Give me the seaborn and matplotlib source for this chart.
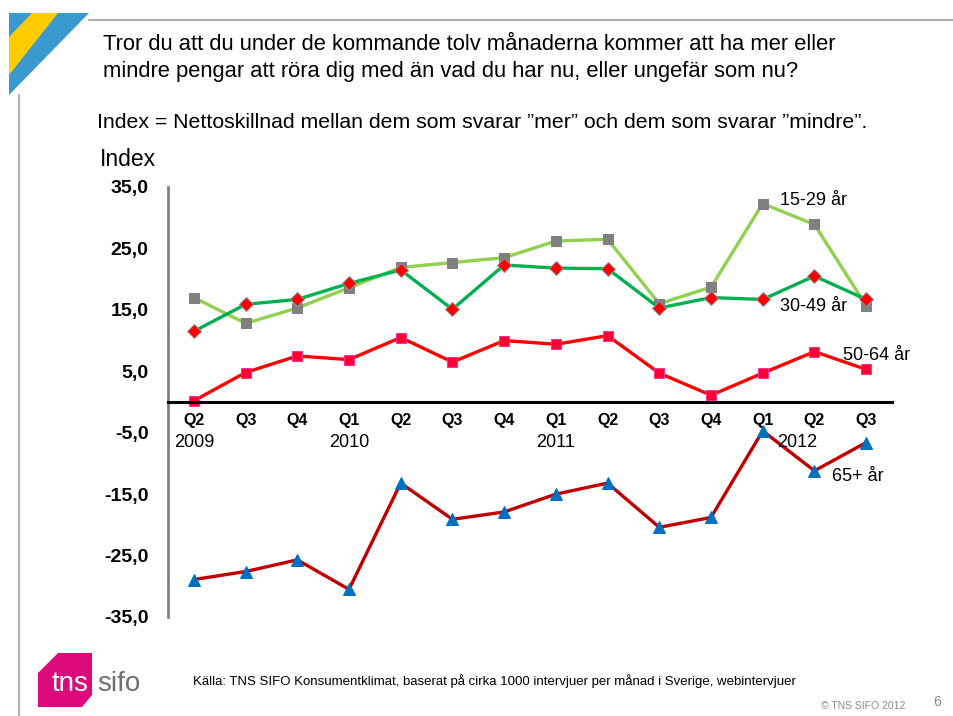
import numpy as np
import pandas as pd
import matplotlib.pyplot as plt
import seaborn as sns
from matplotlib.patches import Polygon
from matplotlib.lines import Line2D

# data (index values per quarter)
quarters = ["Q2", "Q3", "Q4", "Q1", "Q2", "Q3", "Q4", "Q1", "Q2", "Q3", "Q4", "Q1", "Q2", "Q3"]
years = ["2009", "2010", "2011", "2012"]
year_at = [0, 3, 7, 11.67]

age_15_29 = [17.0, 12.8, 15.3, 18.6, 21.9, 22.7, 23.5, 26.2, 26.5, 16.0, 18.7, 32.3, 28.9, 15.7]
age_30_49 = [11.5, 15.9, 16.7, 19.3, 21.5, 15.1, 22.3, 21.8, 21.7, 15.3, 17.0, 16.7, 20.5, 16.7]
age_50_64 = [0.2, 4.8, 7.5, 6.9, 10.5, 6.5, 10.0, 9.4, 10.8, 4.7, 1.1, 4.7, 8.2, 5.3]
age_65 = [-28.9, -27.6, -25.7, -30.5, -13.2, -19.1, -17.9, -15.0, -13.2, -20.4, -18.8, -4.7, -11.2, -6.6]

series_names = ["65+ år", "50-64 år", "15-29 år", "30-49 år"]
series_vals = [age_65, age_50_64, age_15_29, age_30_49]
label_pos = {"15-29 år": (11.34, 32.8), "30-49 år": (11.34, 15.6),
             "50-64 år": (12.56, 7.6), "65+ år": (12.34, -12.2)}

styles = {
    "15-29 år": dict(color="#92d050", marker="s", markerfacecolor="#808080", markeredgecolor="#808080", markersize=6.5),
    "30-49 år": dict(color="#00b050", marker="D", markerfacecolor="#ff0000", markeredgecolor="#909090", markersize=7.5),
    "50-64 år": dict(color="#ff0000", marker="s", markerfacecolor="#ff0033", markeredgecolor="#ff3399", markersize=6.5),
    "65+ år": dict(color="#c00000", marker="^", markerfacecolor="#0070c0", markeredgecolor="#0070c0", markersize=8.5),
}

df = pd.DataFrame({
    "pos": np.tile(np.arange(len(quarters)), len(series_names)),
    "index": np.concatenate(series_vals),
    "group": np.repeat(series_names, len(quarters)),
})

sns.set_style("white")
plt.rcParams["font.family"] = ["Liberation Sans", "DejaVu Sans"]

fig = plt.figure(figsize=(9.54, 7.16), dpi=100)
W, H = 954, 716

def fx(px):
    return px / W

def fy(py):
    return 1 - py / H

# slide decoration
fig.add_artist(Polygon([(fx(9), fy(13)), (fx(89), fy(13)), (fx(9), fy(95))], closed=True,
                       facecolor="#3a9ad0", edgecolor="none", transform=fig.transFigure))
fig.add_artist(Polygon([(fx(32), fy(13)), (fx(58), fy(13)), (fx(9), fy(75)), (fx(9), fy(37))], closed=True,
                       facecolor="#ffcc00", edgecolor="none", transform=fig.transFigure))
fig.add_artist(Line2D([fx(89), 1], [fy(20), fy(20)], color="#b0b0b0", lw=1.5, transform=fig.transFigure))
fig.add_artist(Line2D([fx(19), fx(19)], [fy(95), 0], color="#b0b0b0", lw=1.5, transform=fig.transFigure))

fig.text(fx(103), fy(45), "Tror du att du under de kommande tolv månaderna kommer att ha mer eller",
         fontsize=15.8, va="center", ha="left", color="black")
fig.text(fx(103), fy(72), "mindre pengar att röra dig med än vad du har nu, eller ungefär som nu?",
         fontsize=15.8, va="center", ha="left", color="black")
fig.text(fx(97), fy(123), "Index = Nettoskillnad mellan dem som svarar ”mer” och dem som svarar ”mindre”.",
         fontsize=15.3, va="center", ha="left", color="black")
fig.text(fx(100), fy(160), "Index", fontsize=16.5, va="center", ha="left", color="black")

ax = fig.add_axes([fx(168), fy(617), 724 / W, 430 / H])
for name in series_names:
    sub = df[df["group"] == name]
    sns.lineplot(data=sub, x="pos", y="index", ax=ax, linewidth=2.4, legend=False, **styles[name])
    lx, ly = label_pos[name]
    ax.text(lx, ly, name, fontsize=13, va="center", ha="left", color="black")

ax.set_xlim(-0.5, len(quarters) - 0.5)
ax.set_ylim(-35, 35)
ax.set_xlabel("")
ax.set_ylabel("")
ax.set_facecolor("none")

for s in ["top", "right"]:
    ax.spines[s].set_visible(False)
ax.spines["left"].set_color("#808080")
ax.spines["left"].set_linewidth(2)
ax.spines["bottom"].set_position(("data", 0))
ax.spines["bottom"].set_color("black")
ax.spines["bottom"].set_linewidth(2.2)

ax.set_xticks(np.arange(len(quarters)))
ax.set_xticklabels(quarters, fontweight="bold", fontsize=11.5, color="black")
ax.set_xticks(np.arange(0.5, len(quarters), 1), minor=True)
ax.tick_params(axis="x", which="major", length=0, pad=8)
ax.tick_params(axis="x", which="minor", length=4, width=2, direction="out", color="black")

yt = np.arange(-35, 36, 10)
ax.set_yticks(yt)
ax.set_yticklabels([f"{v:.1f}".replace(".", ",") for v in yt], fontweight="bold", fontsize=14, color="black")
ax.tick_params(axis="y", length=0, pad=14)

for yr, xp in zip(years, year_at):
    ax.text(xp, -6.6, yr, fontsize=13, ha="center", va="center", color="black")

# footer: logo, source, copyright
fig.add_artist(Polygon([(fx(58), fy(653)), (fx(92), fy(653)), (fx(92), fy(695)), (fx(82), fy(707)),
                        (fx(38), fy(707)), (fx(38), fy(673))], closed=True,
                       facecolor="#dc0a7a", edgecolor="none", transform=fig.transFigure))
fig.text(fx(52), fy(684), "tns", color="white", fontsize=20, va="center", ha="left")
fig.text(fx(97), fy(684), "sifo", color="#707070", fontsize=20, va="center", ha="left")
fig.text(fx(193), fy(681), "Källa: TNS SIFO Konsumentklimat, baserat på cirka 1000 intervjuer per månad i Sverige, webintervjuer",
         fontsize=9.5, va="center", ha="left", color="black")
fig.text(fx(905), fy(706), "© TNS SIFO 2012", color="#8c8c8c", fontsize=7.5, va="center", ha="right")
fig.text(fx(937), fy(702), "6", color="#8c8c8c", fontsize=10, va="center", ha="center")

fig.savefig("out.png", dpi=100, facecolor="white")
